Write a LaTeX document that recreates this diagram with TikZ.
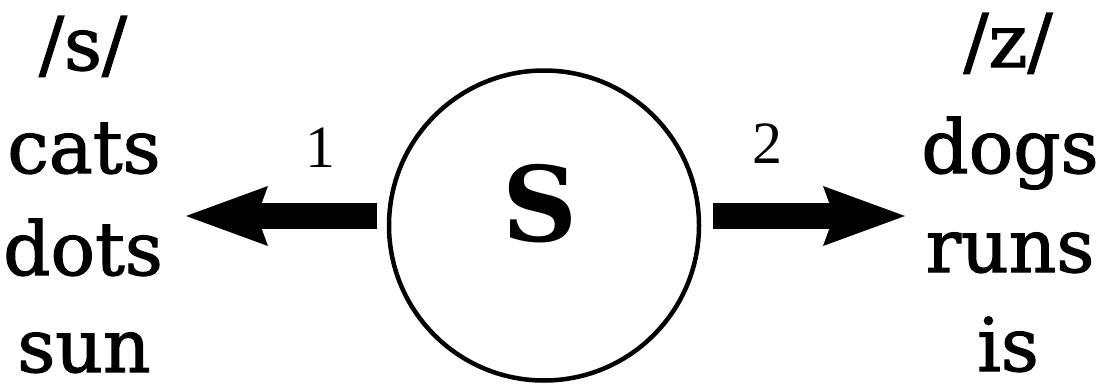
\documentclass[tikz,border=0pt]{standalone}
\usepackage{fontspec}
\setmainfont{DejaVu Serif}
\newfontfamily\wordfont{DejaVu Serif}[FakeBold=1.6]
\newfontfamily\numfont{Liberation Serif}
\usetikzlibrary{arrows.meta}
\tikzset{
  word/.style={anchor=base, inner sep=0pt, text depth=0pt, font=\wordfont\fontsize{74}{74}\selectfont},
  num/.style={anchor=base, inner sep=0pt, font=\numfont\fontsize{60}{60}\selectfont},
  bigarrow/.style={line width=26pt, -{Stealth[length=82pt,width=60pt,inset=11pt,line width=0pt]}},
  ring/.style={circle, draw, line width=4.5pt, inner sep=0pt, minimum size=310pt}
}
\begin{document}
\begin{tikzpicture}[x=1pt,y=-1pt]
\useasboundingbox (0,0) rectangle (1110,388);
\node[ring] (c) at (544,225.5) {};
\node[anchor=base, inner sep=0pt, font=\bfseries\fontsize{104}{104}\selectfont] (S) at (540,241) {S};
% left column
\node[word] (s0) at (83,70) {/s/};
\node[word] (s1) at (84,173) {cats};
\node[word] (s2) at (83,275) {dots};
\node[word] (s3) at (84,372) {sun};
% right column
\node[word] (z0) at (1008,67) {/z/};
\node[word] (z1) at (1010,173) {dogs};
\node[word] (z2) at (1010,272) {runs};
\node[word] (z3) at (1008,371) {is};
% numbers
\node[num] (n1) at (320,167) {1};
\node[num] (n2) at (767,163) {2};
% arrows
\coordinate (la) at (377,216);
\coordinate (lb) at (186,216);
\coordinate (ra) at (713,216);
\coordinate (rb) at (905,216);
\draw[bigarrow] (la) -- (lb);
\draw[bigarrow] (ra) -- (rb);
\end{tikzpicture}
\end{document}
